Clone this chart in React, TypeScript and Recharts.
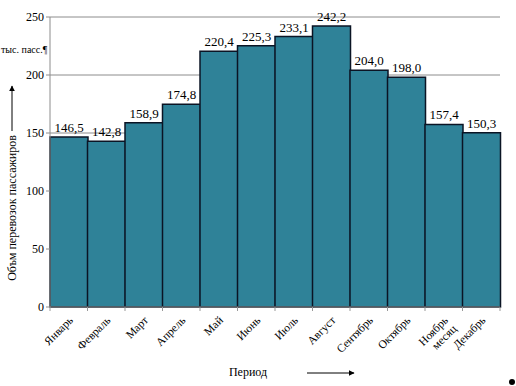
import { BarChart, Bar, XAxis, YAxis, CartesianGrid, LabelList } from 'recharts'

const months = ['Январь', 'Февраль', 'Март', 'Апрель', 'Май', 'Июнь', 'Июль', 'Август', 'Сентябрь', 'Октябрь', 'Ноябрь\nмесяц', 'Декабрь']
const passengers = [146.5, 142.8, 158.9, 174.8, 220.4, 225.3, 233.1, 242.2, 204.0, 198.0, 157.4, 150.3]
const yTicks = [0, 50, 100, 150, 200, 250]

const data = months.map((m, i) => ({ month: m, value: passengers[i] }))

const W = 516
const H = 386
const margin = { top: 17, right: 16, left: 0, bottom: 0 }
const yAxisWidth = 50
const band = (W - margin.left - margin.right - yAxisWidth) / months.length
const serif = 'Liberation Serif, Times New Roman, serif'

function MonthTick(props: any) {
  const { x, y, payload } = props
  const lines = String(payload.value).split('\n')
  return (
    <g>
      <line x1={x - band / 2} x2={x - band / 2} y1={y - 8} y2={y - 4} stroke="#999" />
      {payload.index === months.length - 1 && (
        <line x1={x + band / 2} x2={x + band / 2} y1={y - 8} y2={y - 4} stroke="#999" />
      )}
      <g transform={`translate(${x + 5},${y + 6}) rotate(-45)`}>
        <text textAnchor="end" fontSize={11.5} fontFamily={serif} fill="#000">
          {lines.map((l, i) => (
            <tspan key={i} x={0} dy={i === 0 ? 0 : '1.05em'}>{l}</tspan>
          ))}
        </text>
      </g>
    </g>
  )
}

export default function App() {
  return (
    <div style={{ position: 'absolute', left: 0, top: 0, width: W, height: H, background: '#fff' }}>
      <BarChart width={W} height={H} data={data} margin={margin} barCategoryGap={0} barGap={0}>
        <CartesianGrid vertical={false} stroke="#8c8c8c" />
        <XAxis
          dataKey="month"
          height={79}
          interval={0}
          tickLine={false}
          axisLine={{ stroke: '#8c8c8c' }}
          tick={<MonthTick />}
        />
        <YAxis
          width={yAxisWidth}
          domain={[0, 250]}
          ticks={yTicks}
          axisLine={{ stroke: '#8c8c8c' }}
          tickLine={{ stroke: '#8c8c8c' }}
          tickSize={4}
          tick={{ fontSize: 12, fontFamily: serif, fill: '#000' }}
        />
        <Bar dataKey="value" fill="#2f8298" stroke="#0b1424" strokeWidth={1.5} isAnimationActive={false}>
          <LabelList
            dataKey="value"
            position="top"
            offset={5}
            formatter={(v: any) => Number(v).toFixed(1).replace('.', ',')}
            style={{ fontSize: 13, fontFamily: serif, fill: '#000' }}
          />
        </Bar>
      </BarChart>
      <svg width={W} height={H} style={{ position: 'absolute', left: 0, top: 0, pointerEvents: 'none' }}>
        <defs>
          <marker id="arr" viewBox="0 0 10 10" refX="9" refY="5" markerWidth="6" markerHeight="6" orient="auto">
            <path d="M0,0 L10,5 L0,10 z" fill="#000" />
          </marker>
        </defs>
        <text x={1} y={53} textAnchor="start" fontSize={10} fontFamily={serif} fill="#000">тыс. пасс.¶</text>
        <line x1={12} y1={131} x2={12} y2={86} stroke="#000" strokeWidth={1} markerEnd="url(#arr)" />
        <text
          transform="translate(16,208) rotate(-90)"
          textAnchor="middle"
          fontSize={12}
          fontFamily={serif}
          fill="#000"
        >
          Объм перевозок пассажиров
        </text>
        <text x={248} y={376} textAnchor="middle" fontSize={12} fontFamily={serif} fill="#000">Период</text>
        <line x1={307} y1={373} x2={354} y2={373} stroke="#000" strokeWidth={1} markerEnd="url(#arr)" />
        <circle cx={512} cy={382} r={3} fill="#000" />
      </svg>
    </div>
  )
}
